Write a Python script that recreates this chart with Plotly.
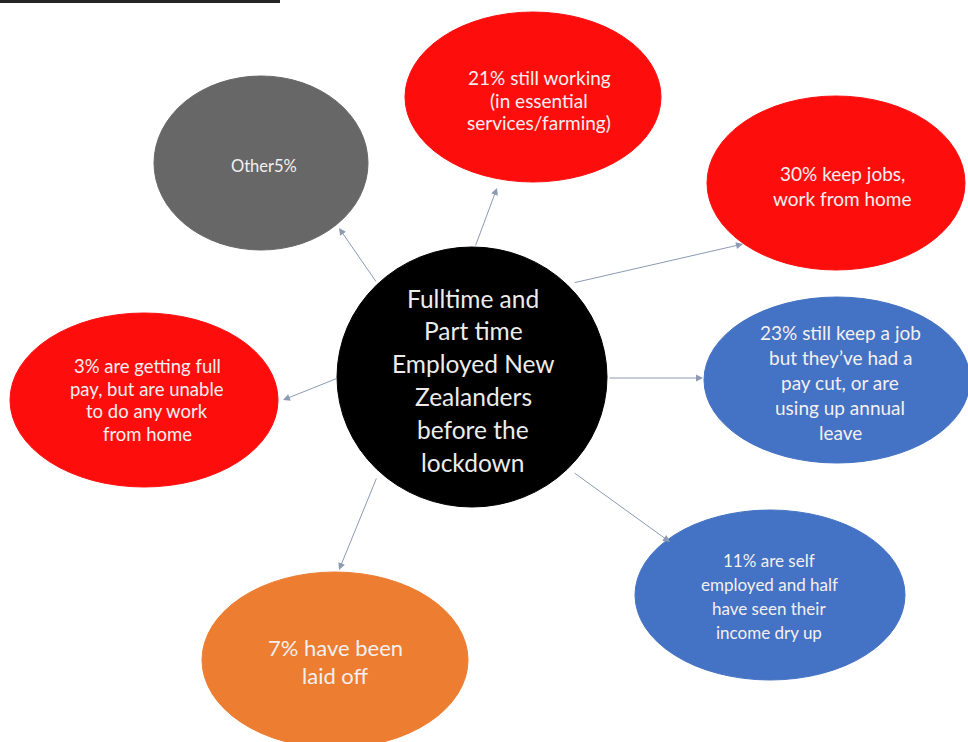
import plotly.graph_objects as go

# ---- content ----
center_lines = ["Fulltime and", "Part time", "Employed New", "Zealanders", "before the", "lockdown"]

node_lines = [
    ["Other5%"],
    ["21% still working", "(in essential", "services/farming)"],
    ["30% keep jobs,", "work from home"],
    ["23% still keep a job", "but they\u2019ve had a", "pay cut, or are", "using up annual", "leave"],
    ["11% are self", "employed and half", "have seen their", "income dry up"],
    ["7% have been", "laid off"],
    ["3% are getting full", "pay, but are unable", "to do any work", "from home"],
]
node_colors = ["#676767", "#fe0d0d", "#fe0d0d", "#4472c4", "#4472c4", "#ed7d31", "#fe0d0d"]

# ---- layout (pixel space) ----
center_geom = (472, 377, 135, 130)
node_geom = [  # cx, cy, rx, ry
    (261, 163, 107, 87),
    (533, 97, 128, 85),
    (836, 183, 129, 87),
    (837, 380, 133, 83),
    (770, 595, 135, 85),
    (335, 660, 133, 88),
    (144, 400, 134, 87),
]
text_pos = [  # text centre x, y
    (264, 166),
    (539, 100),
    (842, 186),
    (840, 382),
    (769, 596),
    (335, 661),
    (147, 400),
]
text_size = [16.5, 19, 19, 19, 17, 22, 18.5]
text_spacing = [22, 22.5, 25, 25, 24, 28, 22.5]

arrows = [  # start (on centre circle) -> end (at node)
    ((377, 283), (339, 228)),
    ((475, 247), (497, 188)),
    ((573, 283), (743, 244)),
    ((608, 378), (703, 378)),
    ((573, 472), (670, 542)),
    ((377, 477), (339, 570)),
    ((338, 378), (283, 400)),
]

W, H = 968, 742
FONT = "Lato, 'Open Sans', sans-serif"

fig = go.Figure()
fig.add_trace(go.Scatter(x=[0, W], y=[0, H], mode="markers",
                         marker=dict(opacity=0), hoverinfo="skip", showlegend=False))

shapes = []
annotations = []

# top black rule
shapes.append(dict(type="line", xref="x", yref="y", x0=0, x1=280, y0=1.5, y1=1.5,
                   line=dict(color="#262626", width=3)))

# arrows
for (sx, sy), (ex, ey) in arrows:
    annotations.append(dict(x=ex, y=ey, ax=sx, ay=sy, xref="x", yref="y", axref="x", ayref="y",
                            text="", showarrow=True, arrowhead=2, arrowsize=1.4, arrowwidth=1,
                            arrowcolor="#8c9ab3"))

# nodes
def add_ellipse(cx, cy, rx, ry, color):
    shapes.append(dict(type="circle", xref="x", yref="y", x0=cx - rx, x1=cx + rx,
                       y0=cy - ry, y1=cy + ry, fillcolor=color,
                       line=dict(color=color, width=1), layer="below"))

def add_text(lines, tx, ty, size, spacing, color="#f4f0f0"):
    n = len(lines)
    for i, ln in enumerate(lines):
        y = ty + (i - (n - 1) / 2) * spacing
        annotations.append(dict(x=tx, y=y, xref="x", yref="y", text=ln, showarrow=False,
                                xanchor="center", yanchor="middle",
                                font=dict(family=FONT, size=size, color=color)))

for (cx, cy, rx, ry), col in zip(node_geom, node_colors):
    add_ellipse(cx, cy, rx, ry, col)
for lines, (tx, ty), fs, sp in zip(node_lines, text_pos, text_size, text_spacing):
    add_text(lines, tx, ty, fs, sp)

cx, cy, rx, ry = center_geom
add_ellipse(cx, cy, rx, ry, "#000000")
add_text(center_lines, 473, 380, 24.5, 32.8, color="#ececec")

fig.update_layout(
    width=W, height=H,
    margin=dict(l=0, r=0, t=0, b=0),
    paper_bgcolor="white", plot_bgcolor="white",
    xaxis=dict(range=[0, W], visible=False, fixedrange=True),
    yaxis=dict(range=[H, 0], visible=False, fixedrange=True),
    shapes=shapes, annotations=annotations,
    showlegend=False,
)

fig.write_html("out.html")
